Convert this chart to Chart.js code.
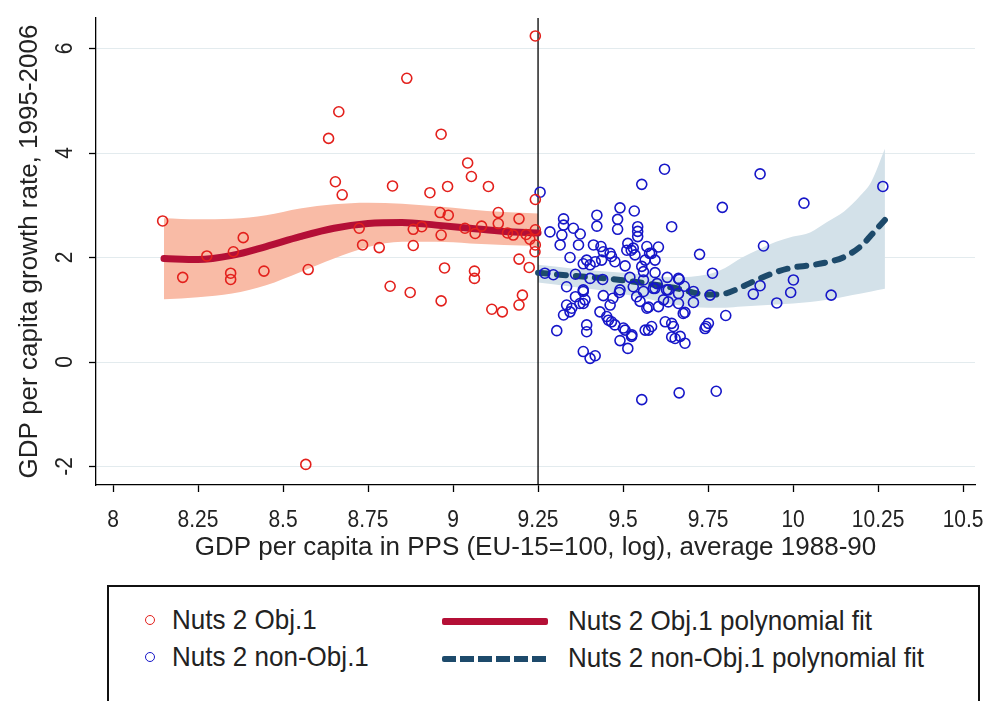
<!DOCTYPE html>
<html>
<head>
<meta charset="utf-8">
<script src="https://cdn.jsdelivr.net/npm/chart.js@4.4.1/dist/chart.umd.min.js"></script>
<style>
  body { margin: 0; background: #fff; font-family: "Liberation Sans", Arial, sans-serif; color: #222; }
  #wrap { position: relative; width: 989px; height: 701px; overflow: hidden; background: #fff; }
  #legend { position: absolute; left: 107px; top: 585px; width: 869px; height: 150px; border: 2px solid #111; }
  .lg { position: absolute; font-size: 28px; line-height: 30px; height: 30px; white-space: nowrap; color: #222;
        transform: scaleX(0.93); transform-origin: left center; }
  .dot { position: absolute; width: 8px; height: 8px; border-radius: 50%; border: 1.6px solid; }
</style>
</head>
<body>
<div id="wrap">
  <canvas id="growthChart" width="989" height="575"></canvas>
  <div id="legend"></div>
  <div class="dot" style="left:145px; top:615px; border-color:#e3201c;"></div>
  <div class="lg" style="left:172px; top:605px;">Nuts 2 Obj.1</div>
  <div class="dot" style="left:145px; top:652px; border-color:#1616c8;"></div>
  <div class="lg" style="left:172px; top:642px;">Nuts 2 non-Obj.1</div>
  <div style="position:absolute; left:442px; top:618px; width:106px; height:7px; background:#b40f36; border-radius:2px;"></div>
  <div class="lg" style="left:568px; top:606px;">Nuts 2 Obj.1 polynomial fit</div>
  <div style="position:absolute; left:442px; top:656px; width:106px; height:6px; border-radius:2px; background:repeating-linear-gradient(to right, #1d4a6b 0 14px, transparent 14px 18px);"></div>
  <div class="lg" style="left:568px; top:643px;">Nuts 2 non-Obj.1 polynomial fit</div>
</div>
<script>
// axis ticks
var xTicks = [8, 8.25, 8.5, 8.75, 9, 9.25, 9.5, 9.75, 10, 10.25, 10.5];
var xTickLabels = ['8', '8.25', '8.5', '8.75', '9', '9.25', '9.5', '9.75', '10', '10.25', '10.5'];
var yTicks = [-2, 0, 2, 4, 6];
var yTickLabels = ['-2', '0', '2', '4', '6'];
var cutoff = 9.25;

// Obj.1 regions (red)
var obj1X = [9.242, 8.864, 8.664, 8.634, 8.965, 9.043, 9.054, 9.104, 8.984, 8.932, 8.822, 8.654, 8.674, 9.242,
  9.133, 8.962, 8.986, 9.133, 9.194, 8.146, 8.724, 8.883, 8.908, 9.035, 9.084, 9.065, 8.965, 9.177, 9.242,
  9.226, 9.242, 9.241, 8.383, 8.354, 8.276, 8.734, 8.783, 8.883, 9.194, 8.205, 8.346, 8.346, 8.444, 8.574,
  8.815, 8.874, 8.965, 8.975, 9.063, 9.063, 9.114, 9.145, 9.194, 9.204, 9.224, 8.567, 9.160, 9.215];
var obj1Y = [6.24, 5.43, 4.79, 4.28, 4.36, 3.81, 3.55, 3.36, 3.36, 3.24, 3.37, 3.45, 3.20, 3.11,
  2.86, 2.86, 2.81, 2.65, 2.74, 2.70, 2.56, 2.54, 2.59, 2.56, 2.60, 2.46, 2.43, 2.43, 2.53,
  2.35, 2.24, 2.11, 2.38, 2.11, 2.03, 2.24, 2.19, 2.23, 1.97, 1.62, 1.70, 1.58, 1.74, 1.77,
  1.45, 1.33, 1.17, 1.80, 1.74, 1.60, 1.01, 0.96, 1.09, 1.28, 1.81, -1.96, 2.47, 2.44];

// non-Obj.1 regions (blue)
var nonObj1X = [9.256, 9.622, 9.903, 10.264, 9.555, 9.792, 10.032, 9.491, 9.533, 9.423, 9.325, 9.325, 9.484, 9.423,
  9.484, 9.543, 9.543, 9.543, 9.643, 9.285, 9.354, 9.374, 9.320, 9.315, 9.369, 9.413, 9.435, 9.462, 9.442,
  9.514, 9.524, 9.570, 9.604, 9.578, 9.535, 9.913, 9.725, 9.344, 9.393, 9.383, 9.418, 9.476, 9.506, 9.555,
  9.594, 9.560, 9.594, 9.763, 9.295, 9.403, 9.560, 9.665, 10.001, 9.334, 9.383, 9.903, 9.489, 9.442, 9.589,
  9.628, 9.663, 9.707, 9.756, 9.883, 9.993, 10.112, 9.952, 9.550, 9.383, 9.462, 9.334, 9.575, 9.604, 9.663,
  9.707, 9.619, 9.344, 9.325, 9.432, 9.682, 9.802, 9.305, 9.393, 9.393, 9.457, 9.476, 9.491, 9.514, 9.526,
  9.506, 9.575, 9.584, 9.624, 9.648, 9.643, 9.653, 9.682, 9.741, 9.751, 9.383, 9.403, 9.418, 9.555, 9.665,
  9.774, 9.570, 9.677, 9.744, 9.466, 9.530, 9.270, 9.360, 9.440, 9.520, 9.600, 9.630, 9.680, 9.540, 9.470, 9.360,
  9.383, 9.491, 9.530, 9.560, 9.594, 9.633, 9.349, 9.373, 9.388, 9.452, 9.466, 9.501, 9.525, 9.633, 9.643,
  9.668, 9.565, 9.584, 9.565, 9.403, 9.437, 9.511, 9.663];
var nonObj1Y = [3.25, 3.69, 3.60, 3.36, 3.40, 2.96, 3.04, 2.95, 2.89, 2.81, 2.74, 2.62, 2.73, 2.60,
  2.54, 2.59, 2.50, 2.40, 2.59, 2.49, 2.56, 2.45, 2.43, 2.24, 2.24, 2.24, 2.21, 2.08, 2.11,
  2.27, 2.14, 2.21, 2.20, 2.08, 2.05, 2.22, 2.06, 2.00, 1.95, 1.88, 1.92, 1.92, 1.84, 1.83,
  1.95, 1.73, 1.71, 1.70, 1.67, 1.60, 1.57, 1.58, 1.57, 1.44, 1.35, 1.46, 1.33, 1.27, 1.41,
  1.38, 1.31, 1.35, 1.28, 1.30, 1.33, 1.28, 1.13, 1.16, 1.12, 1.09, 1.09, 1.05, 1.06, 1.12,
  1.14, 1.19, 0.96, 0.90, 0.96, 0.95, 0.89, 0.60, 0.71, 0.58, 0.80, 0.71, 0.41, 0.26, 0.52,
  0.61, 0.61, 0.68, 0.77, 0.68, 0.48, 0.45, 0.36, 0.64, 0.74, 0.20, 0.07, 0.12, -0.72, -0.59,
  -0.56, 1.03, 0.93, 0.68, 2.02, 2.18, 1.70, 1.68, 1.58, 1.62, 1.50, 1.62, 1.45, 1.25, 1.22, 1.25,
  1.38, 1.38, 1.44, 1.35, 1.41, 1.38, 1.03, 1.12, 1.19, 0.87, 0.77, 0.65, 0.49, 1.15, 0.74,
  0.49, 0.61, 2.08, 1.95, 1.86, 1.95, 2.14, 1.60];

// polynomial fits with confidence bands
var fitObj1X = [8.15, 8.25, 8.35, 8.45, 8.55, 8.65, 8.75, 8.85, 8.95, 9.05, 9.15, 9.25];
var fitObj1Y = [1.98, 1.96, 2.04, 2.21, 2.40, 2.56, 2.65, 2.67, 2.62, 2.56, 2.50, 2.47];
var ciObj1Hi = [2.75, 2.73, 2.74, 2.81, 2.94, 3.02, 3.05, 3.03, 2.98, 2.92, 2.87, 2.84];
var ciObj1Lo = [1.20, 1.24, 1.31, 1.47, 1.72, 1.98, 2.20, 2.30, 2.30, 2.27, 2.24, 2.22];

var fitNonX = [9.25, 9.35, 9.45, 9.55, 9.65, 9.75, 9.8, 9.85, 9.9, 9.95, 10.0, 10.05, 10.1, 10.15, 10.2, 10.23, 10.27];
var fitNonY = [1.71, 1.65, 1.60, 1.52, 1.42, 1.29, 1.31, 1.44, 1.59, 1.72, 1.81, 1.85, 1.91, 2.01, 2.22, 2.43, 2.72];
var ciNonHi = [1.86, 1.79, 1.73, 1.68, 1.62, 1.68, 1.80, 2.00, 2.16, 2.30, 2.40, 2.48, 2.68, 2.88, 3.20, 3.45, 4.08];
var ciNonLo = [1.52, 1.44, 1.36, 1.24, 1.10, 1.04, 1.04, 1.06, 1.08, 1.10, 1.12, 1.15, 1.19, 1.25, 1.31, 1.35, 1.40];

var xMin = 7.95, xMax = 10.535, yMin = -2.354, yMax = 6.584;

function pts(xs, ys) {
  return xs.map(function (x, i) { return { x: x, y: ys[i] }; });
}

Chart.defaults.font.family = '"Liberation Sans", Arial, sans-serif';
Chart.defaults.color = '#222';

var TICK_FONT = '24px "Liberation Sans", Arial, sans-serif';
var SQUEEZE = 0.875; // stata's narrow helvetica

// tick labels drawn by hand so they can be narrowed, y ones turned sideways like stata
var stataTickLabels = {
  id: 'stataTickLabels',
  afterDraw: function (chart) {
    var xs = chart.scales.x, ys = chart.scales.y, ctx = chart.ctx;
    ctx.save();
    ctx.font = TICK_FONT;
    ctx.fillStyle = '#222';
    ctx.textAlign = 'center';
    ctx.textBaseline = 'middle';
    xTicks.forEach(function (v, i) {
      ctx.save();
      ctx.translate(xs.getPixelForValue(v), 520);
      ctx.scale(SQUEEZE, 1);
      ctx.fillText(xTickLabels[i], 0, 0);
      ctx.restore();
    });
    yTicks.forEach(function (v, i) {
      ctx.save();
      ctx.translate(64, ys.getPixelForValue(v));
      ctx.rotate(-Math.PI / 2);
      ctx.scale(SQUEEZE, 1);
      ctx.fillText(yTickLabels[i], 0, 1);
      ctx.restore();
    });
    ctx.restore();
  }
};

var ctx = document.getElementById('growthChart').getContext('2d');
var growthChart = new Chart(ctx, {
  type: 'scatter',
  data: {
    datasets: [
      {
        label: 'Nuts 2 Obj.1',
        data: pts(obj1X, obj1Y),
        pointRadius: 5,
        borderColor: '#e3201c',
        backgroundColor: 'rgba(0,0,0,0)',
        borderWidth: 1.6
      },
      {
        label: 'Nuts 2 non-Obj.1',
        data: pts(nonObj1X, nonObj1Y),
        pointRadius: 5,
        borderColor: '#1616c8',
        backgroundColor: 'rgba(0,0,0,0)',
        borderWidth: 1.6
      },
      {
        type: 'line',
        label: 'Nuts 2 Obj.1 polynomial fit',
        data: pts(fitObj1X, fitObj1Y),
        borderColor: '#b40f36',
        borderWidth: 7,
        pointRadius: 0,
        cubicInterpolationMode: 'monotone',
        borderCapStyle: 'round',
        fill: false
      },
      {
        type: 'line',
        label: 'Nuts 2 non-Obj.1 polynomial fit',
        data: pts(fitNonX, fitNonY),
        borderColor: '#1d4a6b',
        borderWidth: 6,
        borderDash: [9, 10],
        borderCapStyle: 'round',
        pointRadius: 0,
        cubicInterpolationMode: 'monotone',
        fill: false
      },
      {
        type: 'line',
        label: 'cutoff',
        data: [{ x: cutoff, y: yMin }, { x: cutoff, y: yMax }],
        borderColor: '#000',
        borderWidth: 1.3,
        pointRadius: 0,
        fill: false
      },
      {
        type: 'line',
        label: 'obj1 ci hi',
        data: pts(fitObj1X, ciObj1Hi),
        borderWidth: 0,
        borderColor: 'rgba(0,0,0,0)',
        backgroundColor: '#f9bba6',
        pointRadius: 0,
        cubicInterpolationMode: 'monotone',
        fill: '+1'
      },
      {
        type: 'line',
        label: 'obj1 ci lo',
        data: pts(fitObj1X, ciObj1Lo),
        borderWidth: 0,
        borderColor: 'rgba(0,0,0,0)',
        pointRadius: 0,
        cubicInterpolationMode: 'monotone',
        fill: false
      },
      {
        type: 'line',
        label: 'non ci hi',
        data: pts(fitNonX, ciNonHi),
        borderWidth: 0,
        borderColor: 'rgba(0,0,0,0)',
        backgroundColor: '#d3e1e9',
        pointRadius: 0,
        cubicInterpolationMode: 'monotone',
        fill: '+1'
      },
      {
        type: 'line',
        label: 'non ci lo',
        data: pts(fitNonX, ciNonLo),
        borderWidth: 0,
        borderColor: 'rgba(0,0,0,0)',
        pointRadius: 0,
        cubicInterpolationMode: 'monotone',
        fill: false
      }
    ]
  },
  options: {
    responsive: false,
    animation: false,
    layout: { padding: { top: 18, right: 14, left: 0, bottom: 0 } },
    plugins: {
      legend: { display: false },
      tooltip: { enabled: false }
    },
    scales: {
      x: {
        type: 'linear',
        min: xMin,
        max: xMax,
        afterBuildTicks: function (s) { s.ticks = xTicks.map(function (v) { return { value: v }; }); },
        afterFit: function (s) { s.height = 90; s.paddingLeft = 0; s.paddingRight = 0; },
        grid: { drawOnChartArea: false, tickColor: '#000', tickLength: 7, tickWidth: 1.3 },
        border: { color: '#000', width: 1.3 },
        ticks: { display: false },
        title: {
          display: true,
          text: 'GDP per capita in PPS (EU-15=100, log), average 1988-90',
          font: { size: 26 },
          color: '#222',
          padding: { top: 0, bottom: 12 }
        }
      },
      y: {
        type: 'linear',
        min: yMin,
        max: yMax,
        afterBuildTicks: function (s) { s.ticks = yTicks.map(function (v) { return { value: v }; }); },
        afterFit: function (s) { s.width = 96; s.paddingTop = 0; s.paddingBottom = 0; },
        grid: { color: '#e3ebee', lineWidth: 1, tickColor: '#000', tickLength: 7, tickWidth: 1.3 },
        border: { color: '#000', width: 1.3 },
        ticks: { display: false },
        title: {
          display: true,
          text: 'GDP per capita growth rate, 1995-2006',
          font: { size: 26 },
          color: '#222',
          padding: { top: 14, bottom: 0 }
        }
      }
    }
  },
  plugins: [stataTickLabels]
});
</script>
</body>
</html>
